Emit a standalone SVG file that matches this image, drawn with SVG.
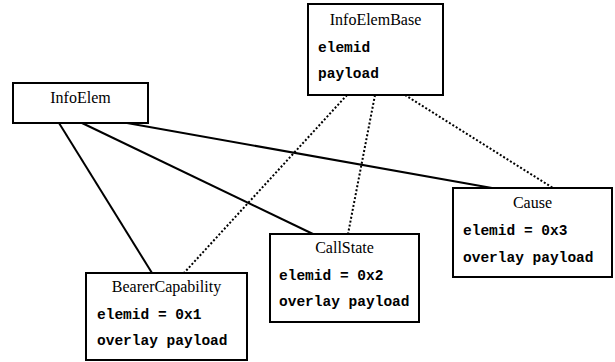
<svg xmlns="http://www.w3.org/2000/svg" width="615" height="362" viewBox="0 0 615 362">
<style>
.box{fill:#fff;stroke:#000;stroke-width:2}
.t{font-family:"Liberation Serif","Times New Roman",serif;font-size:16px;fill:#000;text-anchor:middle}
.m{font-family:"Liberation Mono","Courier New",monospace;font-size:14.5px;font-weight:bold;fill:#000}
.s{stroke:#000;stroke-width:2;fill:none}
.d{stroke:#000;stroke-width:2;fill:none;stroke-dasharray:2 2}
</style>
<rect width="615" height="362" fill="#fff"/>
<g id="connectors">
<line class="s" x1="59" y1="123" x2="152" y2="273"/>
<line class="s" x1="82" y1="123" x2="313" y2="234"/>
<line class="s" x1="127" y1="123" x2="492" y2="188"/>
<line class="d" x1="347" y1="95" x2="184" y2="273"/>
<line class="d" x1="375" y1="95" x2="348" y2="234"/>
<line class="d" x1="405" y1="95" x2="553" y2="188"/>
</g>
<g id="InfoElemBase">
<rect class="box" x="308" y="4" width="135" height="91"/>
<text class="t" x="375.5" y="25">InfoElemBase</text>
<text class="m" x="318" y="52">elemid</text>
<text class="m" x="318" y="78">payload</text>
</g>
<g id="InfoElem">
<rect class="box" x="13" y="83" width="135" height="40"/>
<text class="t" x="80.5" y="103">InfoElem</text>
</g>
<g id="BearerCapability">
<rect class="box" x="86" y="273" width="161" height="87"/>
<text class="t" x="166.5" y="292">BearerCapability</text>
<text class="m" x="97" y="319">elemid = 0x1</text>
<text class="m" x="97" y="345">overlay payload</text>
</g>
<g id="CallState">
<rect class="box" x="270" y="234" width="149" height="88"/>
<text class="t" x="344.5" y="253">CallState</text>
<text class="m" x="279" y="280">elemid = 0x2</text>
<text class="m" x="279" y="306">overlay payload</text>
</g>
<g id="Cause">
<rect class="box" x="453" y="188" width="159" height="89"/>
<text class="t" x="532.5" y="208">Cause</text>
<text class="m" x="463" y="235">elemid = 0x3</text>
<text class="m" x="463" y="262">overlay payload</text>
</g>
</svg>
